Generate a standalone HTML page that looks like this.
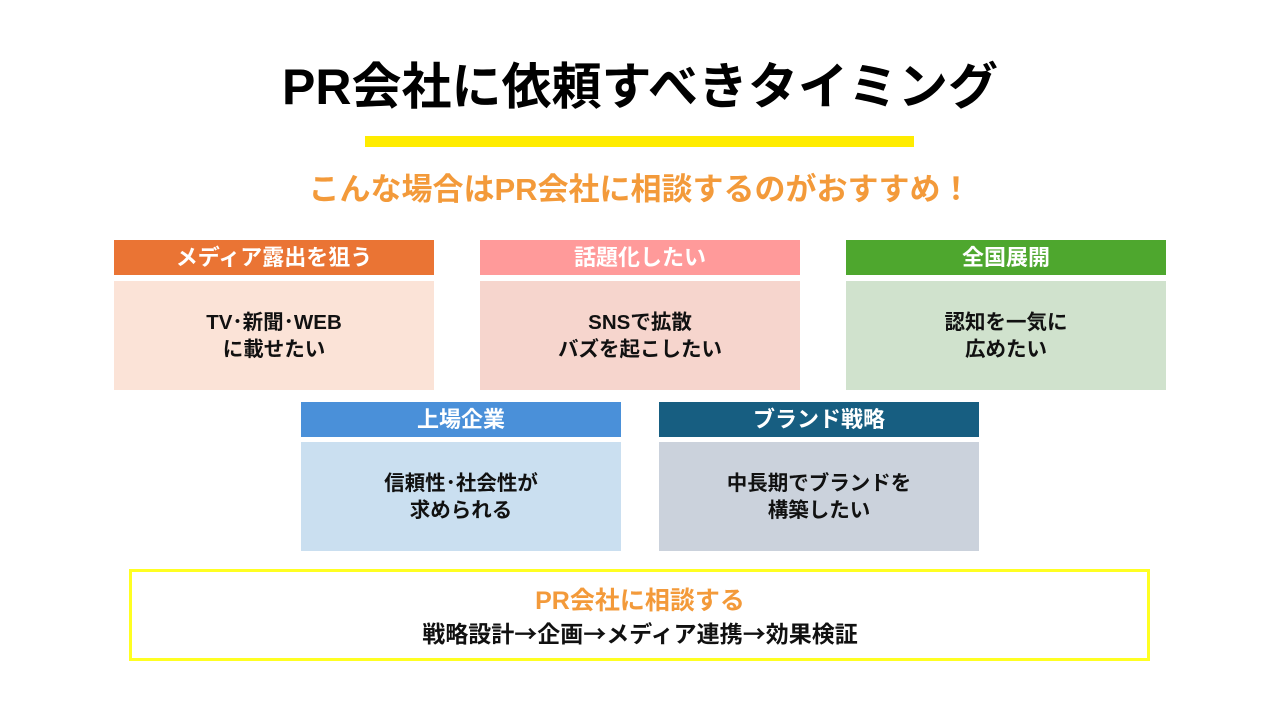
<!DOCTYPE html>
<html><head><meta charset="utf-8"><style>
body{margin:0;width:1280px;height:720px;background:#fff;position:relative;overflow:hidden;font-family:"Liberation Sans","Noto Sans CJK JP",sans-serif;font-weight:bold}
.a{position:absolute;text-align:center}
.h{position:absolute;width:320px;height:35px;color:#fff;font-size:22px;line-height:35px;text-align:center}
.b{position:absolute;width:320px;height:109px;font-size:20.5px;line-height:27px;color:#111;display:flex;align-items:center;justify-content:center;text-align:center}
.ar{font-family:"Noto Sans CJK JP",sans-serif}
</style></head><body>
<div class="a" style="left:0;width:1280px;top:54px;font-size:50px;line-height:66px;color:#000">PR会社に依頼すべきタイミング</div>
<div class="a" style="left:365px;width:549px;top:136px;height:11px;background:#ffec00"></div>
<div class="a" style="left:0;width:1280px;top:170px;font-size:31px;line-height:40px;color:#f39a3a">こんな場合はPR会社に相談するのがおすすめ！</div>

<div class="h" style="left:114px;top:240px;background:#ea7434">メディア露出を狙う</div>
<div class="b" style="left:114px;top:281px;background:#fbe3d7">TV･新聞･WEB<br>に載せたい</div>
<div class="h" style="left:480px;top:240px;background:#ff9a9a">話題化したい</div>
<div class="b" style="left:480px;top:281px;background:#f6d5cd">SNSで拡散<br>バズを起こしたい</div>
<div class="h" style="left:846px;top:240px;background:#4ea72e">全国展開</div>
<div class="b" style="left:846px;top:281px;background:#d0e2cd">認知を一気に<br>広めたい</div>

<div class="h" style="left:301px;top:402px;background:#4a90d9">上場企業</div>
<div class="b" style="left:301px;top:442px;background:#cadff0">信頼性･社会性が<br>求められる</div>
<div class="h" style="left:659px;top:402px;background:#175e81">ブランド戦略</div>
<div class="b" style="left:659px;top:442px;background:#cbd2dc">中長期でブランドを<br>構築したい</div>

<div class="a" style="left:129px;top:569px;width:1015px;height:86px;border:3px solid #ffff22"></div>
<div class="a" style="left:0;width:1280px;top:585px;font-size:25px;line-height:32px;color:#f39a3a">PR会社に相談する</div>
<div class="a" style="left:0;width:1280px;top:617px;font-size:23px;line-height:30px;color:#111">戦略設計<span class="ar">→</span>企画<span class="ar">→</span>メディア連携<span class="ar">→</span>効果検証</div>
</body></html>
